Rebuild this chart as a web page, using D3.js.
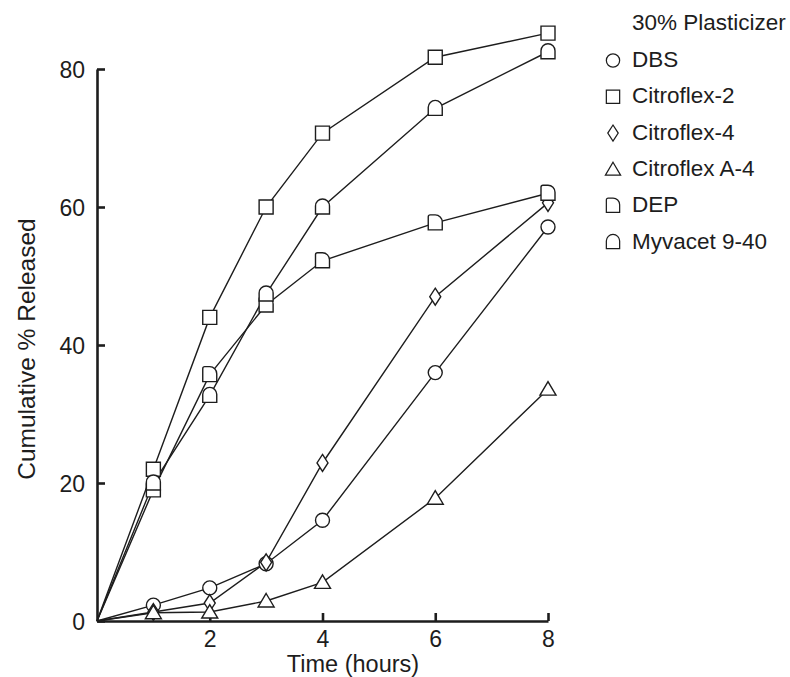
<!DOCTYPE html>
<html>
<head>
<meta charset="utf-8">
<script src="https://cdn.jsdelivr.net/npm/d3@7"></script>
<style>
  html, body { margin: 0; padding: 0; background: #fff; }
  svg { display: block; font-family: "Liberation Sans", Arial, Helvetica, sans-serif; }
</style>
</head>
<body>
<svg id="chart" width="790" height="677"></svg>
<script>
// Sampling times (hours)
const times = [0, 1, 2, 3, 4, 6, 8];

// Cumulative % released for each plasticizer (30%)
const dbs        = [0, 2.3, 4.8, 8.3, 14.6, 36.0, 57.1];
const citroflex2 = [0, 22.0, 44.0, 60.0, 70.7, 81.7, 85.2];
const citroflex4 = [0, 1.3, 2.6, 8.5, 22.9, 47.0, 60.6];
const citroflexA4 = [0, 1.2, 1.3, 2.9, 5.6, 17.8, 33.6];
const dep        = [0, 19.0, 35.7, 45.8, 52.2, 57.7, 62.0];
const myvacet    = [0, 20.0, 32.7, 47.4, 60.0, 74.3, 82.5];

const seriesNames = ["DBS", "Citroflex-2", "Citroflex-4", "Citroflex A-4", "DEP", "Myvacet 9-40"];
const seriesValues = [dbs, citroflex2, citroflex4, citroflexA4, dep, myvacet];
const seriesShapes = ["circle", "square", "diamond", "triangle", "dep", "dome"];

const xTicks = [2, 4, 6, 8];
const yTicks = [0, 20, 40, 60, 80];

const legendTitle = "30% Plasticizer";
const xTitle = "Time (hours)";
const yTitle = "Cumulative % Released";

const ink = "#1d1d1d";

const svg = d3.select("#chart");

const x = d3.scaleLinear().domain([0, 8]).range([97, 548]);
const y = d3.scaleLinear().domain([0, 80]).range([621, 69]);

// Marker outlines, centred on 0,0
const shapePath = {
  circle: "M7,0 A7,7 0 1 1 -7,0 A7,7 0 1 1 7,0 Z",
  square: "M-7,-7 L7,-7 L7,7 L-7,7 Z",
  diamond: "M0,-8.5 L5.5,0 L0,8.5 L-5.5,0 Z",
  triangle: "M0,-7.5 L8,6 L-8,6 Z",
  dep: "M-7,7 L-7,-6 Q-7,-8 -5,-8 L0,-8 A7,7 0 0 1 7,-1 L7,7 Z",
  dome: "M-7,7 L-7,-1 A7,7 0 0 1 7,-1 L7,7 Z"
};

// Axes with inward ticks
const xAxis = d3.axisBottom(x).tickValues(xTicks).tickSizeInner(-8).tickSizeOuter(0).tickPadding(10).tickFormat(d3.format("d"));
const yAxis = d3.axisLeft(y).tickValues(yTicks).tickSizeInner(-8).tickSizeOuter(0).tickPadding(12).tickFormat(d3.format("d"));

const gx = svg.append("g").attr("transform", `translate(0,${y(0)})`).call(xAxis);
const gy = svg.append("g").attr("transform", `translate(${x(0)},0)`).call(yAxis);

[gx, gy].forEach(g => {
  g.select(".domain").attr("stroke", ink).attr("stroke-width", 2.6);
  g.selectAll(".tick line").attr("stroke", ink).attr("stroke-width", 2.6);
  g.selectAll(".tick text").attr("fill", ink).style("font-size", "23px").style("font-family", "Liberation Sans, Arial, sans-serif");
});
gy.selectAll(".tick text").attr("dy", "0.36em");

// Axis titles
svg.append("text")
  .attr("x", 353).attr("y", 672)
  .attr("text-anchor", "middle")
  .attr("fill", ink)
  .style("font-size", "23.5px")
  .text(xTitle);

svg.append("text")
  .attr("transform", "translate(35,349) rotate(-90)")
  .attr("text-anchor", "middle")
  .attr("fill", ink)
  .style("font-size", "24.5px")
  .text(yTitle);

// Lines
const line = d3.line().x((d, i) => x(times[i])).y(d => y(d));
const plot = svg.append("g");
seriesValues.forEach(vals => {
  plot.append("path")
    .attr("d", line(vals))
    .attr("fill", "none")
    .attr("stroke", ink)
    .attr("stroke-width", 1.4);
});

// Markers (no marker at the origin)
seriesValues.forEach((vals, s) => {
  plot.selectAll(null)
    .data(vals.map((v, i) => ({ t: times[i], v })).filter(d => d.t > 0))
    .join("path")
    .attr("d", shapePath[seriesShapes[s]])
    .attr("transform", d => `translate(${x(d.t)},${y(d.v)})`)
    .attr("fill", "#fff")
    .attr("stroke", ink)
    .attr("stroke-width", 1.4);
});

// Legend
const legend = svg.append("g");
legend.append("text")
  .attr("x", 632).attr("y", 30)
  .attr("fill", ink)
  .style("font-size", "22.5px")
  .text(legendTitle);

seriesNames.forEach((name, i) => {
  const yy = 67 + i * 36.3;
  legend.append("path")
    .attr("d", shapePath[seriesShapes[i]])
    .attr("transform", `translate(613,${yy - 6.5}) scale(0.95)`)
    .attr("fill", "#fff")
    .attr("stroke", ink)
    .attr("stroke-width", 1.3);
  legend.append("text")
    .attr("x", 632).attr("y", yy)
    .attr("fill", ink)
    .style("font-size", "22.5px")
    .text(name);
});
</script>
</body>
</html>
